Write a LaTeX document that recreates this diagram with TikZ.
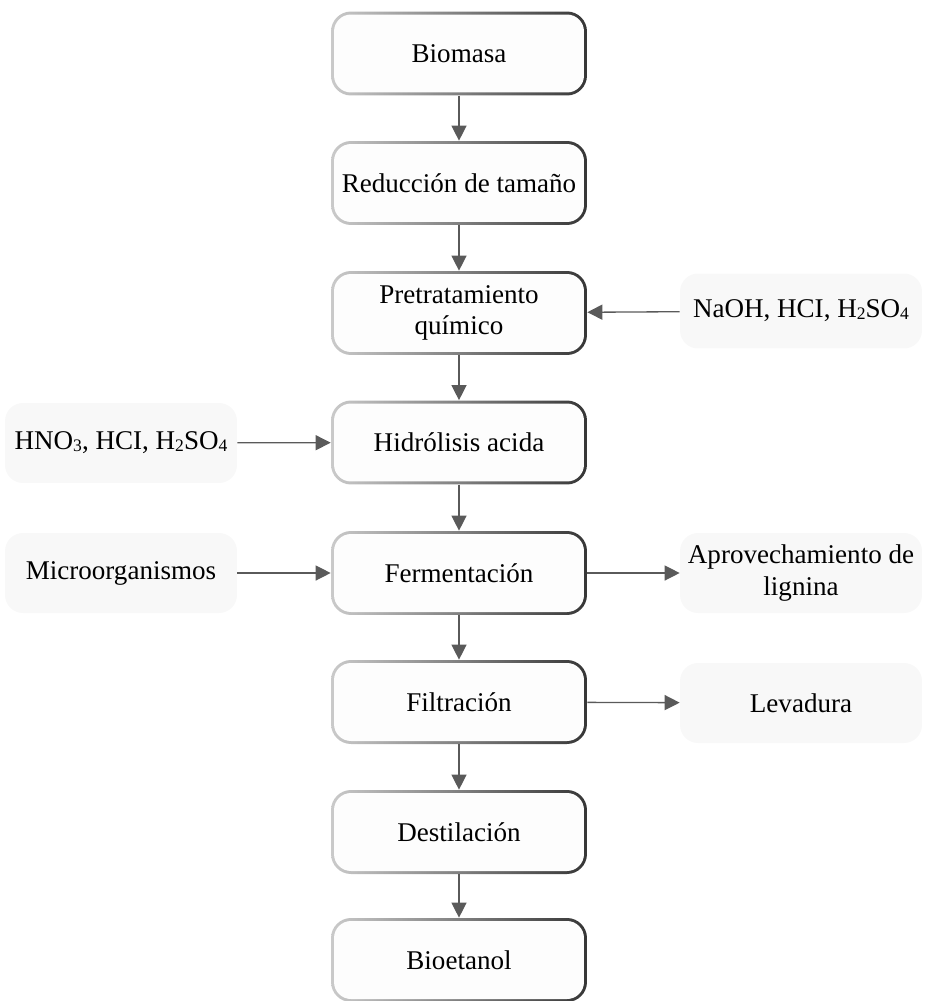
\documentclass[tikz,border=0pt]{standalone}
\usepackage{fontspec}
\setmainfont{Liberation Serif}
\usetikzlibrary{arrows.meta}
\definecolor{arrowgray}{HTML}{5A5A5A}
\definecolor{ringlight}{HTML}{CACACA}
\definecolor{ringdark}{HTML}{363636}
\definecolor{boxfill}{HTML}{FDFDFD}
\definecolor{sidefill}{HTML}{F8F8F8}
\newcommand{\chemsub}[1]{\raisebox{-0.15ex}{\fontsize{10}{10}\selectfont #1}}

\tikzset{
	stage/.style={rounded corners=0.4cm, left color=ringlight, right color=ringdark,
		minimum width=5.12cm, minimum height=1.68cm, align=center,
		path picture={\fill[boxfill, rounded corners=0.34cm]
			([shift={(0.06cm,0.06cm)}]path picture bounding box.south west) rectangle
			([shift={(-0.06cm,-0.06cm)}]path picture bounding box.north east);}},
	side/.style={fill=sidefill, rounded corners=0.36cm, minimum width=4.64cm,
		minimum height=1.6cm, align=center, inner xsep=0pt},
	sideright/.style={side, minimum width=4.84cm},
	flow/.style={draw=arrowgray, line width=0.75pt, -{Triangle[length=0.3cm, width=0.3cm]}}
}

\begin{document}
\begin{tikzpicture}[x=0.02cm, y=-0.02cm, font=\fontsize{15.4}{18}\selectfont]
	\useasboundingbox (0,0) rectangle (924,1001);
	\node[stage] (biomasa) at (459,53.5) {Biomasa};
	\node[stage] (reduccion) at (459,183) {Reducción de tamaño};
	\node[stage] (pretrat) at (459,313) {Pretratamiento\\químico};
	\node[stage] (hidrolisis) at (459,442.5) {Hidrólisis acida};
	\node[stage] (ferment) at (459,573) {Fermentación};
	\node[stage] (filtra) at (459,702) {Filtración};
	\node[stage] (destila) at (459,832) {Destilación};
	\node[stage] (bioetanol) at (459,960) {Bioetanol};
	\node[sideright, minimum height=1.5cm] (alcali) at (801,311) {NaOH, HCI, H\chemsub{2}SO\chemsub{4}};
	\node[side] (acidos) at (121,443) {HNO\chemsub{3}, HCI, H\chemsub{2}SO\chemsub{4}};
	\node[side] (micro) at (121,573) {Microorganismos};
	\node[sideright] (lignina) at (801,573) {Aprovechamiento de\\lignina};
	\node[sideright] (levadura) at (801,703) {Levadura};
	\draw[flow] (biomasa) -- (reduccion);
	\draw[flow] (reduccion) -- (pretrat);
	\draw[flow] (pretrat) -- (hidrolisis);
	\draw[flow] (hidrolisis) -- (ferment);
	\draw[flow] (ferment) -- (filtra);
	\draw[flow] (filtra) -- (destila);
	\draw[flow] (destila) -- (bioetanol);
	\draw[flow] (alcali) -- (pretrat);
	\draw[flow] (acidos) -- (hidrolisis);
	\draw[flow] (micro) -- (ferment);
	\draw[flow] (ferment) -- (lignina);
	\draw[flow] (filtra) -- (levadura);
\end{tikzpicture}
\end{document}
